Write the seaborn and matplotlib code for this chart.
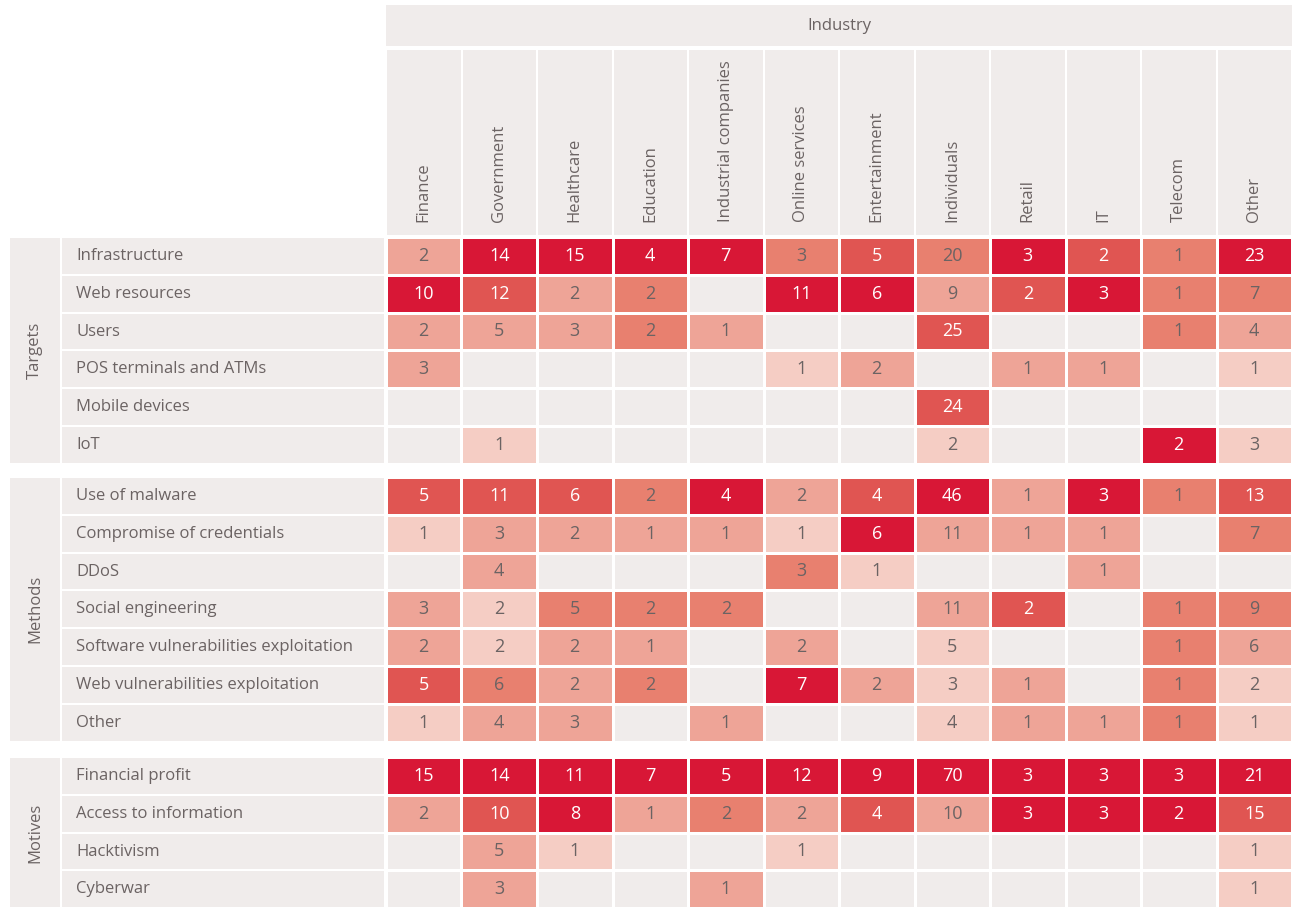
import numpy as np
import pandas as pd
import matplotlib
matplotlib.use("Agg")
import matplotlib.pyplot as plt
from matplotlib.colors import ListedColormap
from matplotlib.patches import Rectangle
import seaborn as sns

industries = ["Finance", "Government", "Healthcare", "Education", "Industrial companies",
              "Online services", "Entertainment", "Individuals", "Retail", "IT", "Telecom", "Other"]

targets_rows = ["Infrastructure", "Web resources", "Users", "POS terminals and ATMs", "Mobile devices", "IoT"]
targets_vals = [
    [2, 14, 15, 4, 7, 3, 5, 20, 3, 2, 1, 23],
    [10, 12, 2, 2, 0, 11, 6, 9, 2, 3, 1, 7],
    [2, 5, 3, 2, 1, 0, 0, 25, 0, 0, 1, 4],
    [3, 0, 0, 0, 0, 1, 2, 0, 1, 1, 0, 1],
    [0, 0, 0, 0, 0, 0, 0, 24, 0, 0, 0, 0],
    [0, 1, 0, 0, 0, 0, 0, 2, 0, 0, 2, 3],
]
methods_rows = ["Use of malware", "Compromise of credentials", "DDoS", "Social engineering",
                "Software vulnerabilities exploitation", "Web vulnerabilities exploitation", "Other"]
methods_vals = [
    [5, 11, 6, 2, 4, 2, 4, 46, 1, 3, 1, 13],
    [1, 3, 2, 1, 1, 1, 6, 11, 1, 1, 0, 7],
    [0, 4, 0, 0, 0, 3, 1, 0, 0, 1, 0, 0],
    [3, 2, 5, 2, 2, 0, 0, 11, 2, 0, 1, 9],
    [2, 2, 2, 1, 0, 2, 0, 5, 0, 0, 1, 6],
    [5, 6, 2, 2, 0, 7, 2, 3, 1, 0, 1, 2],
    [1, 4, 3, 0, 1, 0, 0, 4, 1, 1, 1, 1],
]
motives_rows = ["Financial profit", "Access to information", "Hacktivism", "Cyberwar"]
motives_vals = [
    [15, 14, 11, 7, 5, 12, 9, 70, 3, 3, 3, 21],
    [2, 10, 8, 1, 2, 2, 4, 10, 3, 3, 2, 15],
    [0, 5, 1, 0, 0, 1, 0, 0, 0, 0, 0, 1],
    [0, 3, 0, 0, 1, 0, 0, 0, 0, 0, 0, 1],
]
sections = [("Targets", targets_rows, targets_vals),
            ("Methods", methods_rows, methods_vals),
            ("Motives", motives_rows, motives_vals)]

palette = ["#f0eceb", "#f5cdc4", "#eea497", "#e8806f", "#e05552", "#d81736"]
bg = "#f0eceb"
txt = "#6b6363"

W, H = 1302, 918
fig = plt.figure(figsize=(W / 100, H / 100), dpi=100)
plt.rcParams["font.family"] = ["Open Sans", "DejaVu Sans"]

# background axes in pixel coordinates
bax = fig.add_axes([0, 0, 1, 1])
bax.set_xlim(0, W)
bax.set_ylim(H, 0)
bax.axis("off")

x0, x1 = 386, 1292
cw = (x1 - x0) / 12
bax.add_patch(Rectangle((x0, 5), x1 - x0, 41, color=bg, lw=0))
bax.text((x0 + x1) / 2, 26, "Industry", ha="center", va="center", fontsize=12, color=txt)
for i, name in enumerate(industries):
    bax.add_patch(Rectangle((x0 + i * cw + 1, 50), cw - 2, 185, color=bg, lw=0))
    bax.text(x0 + (i + 0.5) * cw, 222, name, rotation=90, ha="center", va="bottom",
             fontsize=12, color=txt)

row_h = 37.8
tops = [237, 477, 757]


def level(v, share):
    if v == 0:
        return 0
    if share >= 0.4:
        return 5
    if share >= 0.28:
        return 4
    if share >= 0.18:
        return 3
    if share >= 0.09:
        return 2
    return 1


for (name, rows, vals), top in zip(sections, tops):
    df = pd.DataFrame(vals, index=rows, columns=industries)
    share = df / df.sum(axis=0).replace(0, 1)
    lev = pd.DataFrame([[level(df.iat[r, c], share.iat[r, c]) for c in range(12)]
                        for r in range(len(rows))], index=rows, columns=industries)
    annot = df.astype(str).where(df > 0, "")
    h = len(rows) * row_h
    ax = fig.add_axes([x0 / W, 1 - (top + h) / H, (x1 - x0) / W, h / H])
    sns.heatmap(lev, ax=ax, cmap=ListedColormap(palette), vmin=-0.5, vmax=5.5, cbar=False,
                annot=annot, fmt="", linewidths=2, linecolor="white",
                annot_kws={"fontsize": 13}, xticklabels=False, yticklabels=False)
    for t, (r, c) in zip(ax.texts, [(r, c) for r in range(len(rows)) for c in range(12)]):
        t.set_color("white" if lev.iat[r, c] >= 4 else txt)
    # row labels and group label
    for r, rname in enumerate(rows):
        y = top + r * row_h
        bax.add_patch(Rectangle((62, y + 1), 322, row_h - 2, color=bg, lw=0))
        bax.text(76, y + row_h / 2, rname, ha="left", va="center", fontsize=12, color=txt)
    bax.add_patch(Rectangle((10, top + 1), 50, h - 2, color=bg, lw=0))
    bax.text(35, top + h / 2, name, rotation=90, ha="center", va="center", fontsize=12, color=txt)

plt.savefig("out.png", dpi=100)
